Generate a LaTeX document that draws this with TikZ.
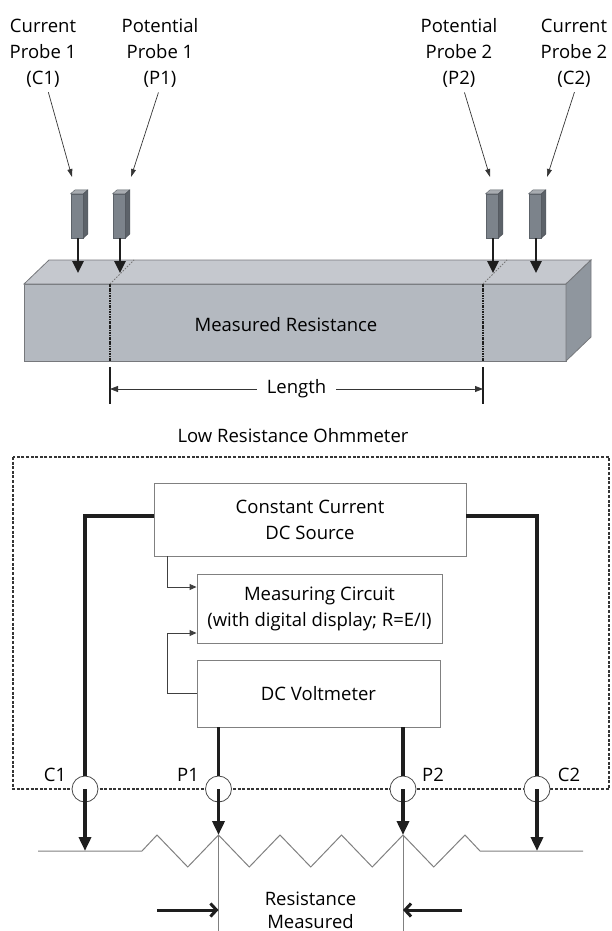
\documentclass[tikz,border=0pt]{standalone}
\usepackage{fontspec}
\setmainfont{Open Sans}
\usetikzlibrary{arrows.meta}

\definecolor{barfront}{RGB}{180,185,192}
\definecolor{bartop}{RGB}{197,200,206}
\definecolor{barside}{RGB}{143,150,158}
\definecolor{baredge}{RGB}{118,120,124}
\definecolor{probefront}{RGB}{124,131,139}
\definecolor{probeside}{RGB}{92,98,105}
\definecolor{probetop}{RGB}{168,172,177}
\definecolor{ink}{RGB}{30,30,30}
\definecolor{rule}{RGB}{128,128,128}

\tikzset{
  txt/.style={font=\fontsize{18.5}{26}\selectfont,align=center,inner sep=0pt,text=black},
  block/.style={txt,draw=rule,line width=0.9pt,fill=white},
  ring/.style={circle,draw=ink!80,line width=0.8pt,fill=white,minimum size=26pt,inner sep=0pt},
  probe/.style={rectangle,fill=probefront,draw=probeside,line width=0.4pt,
    minimum width=12.5pt,minimum height=44pt,inner sep=0pt},
  wire/.style={draw=ink,line width=3.5pt},
  flow/.style={draw=ink!85,line width=0.9pt,-{Triangle[length=7pt,width=6pt]}},
  zig/.style={draw=rule,line width=1pt}
}

\begin{document}
\begin{tikzpicture}[x=1pt,y=-1pt]
\useasboundingbox (0,0) rectangle (612,931);

% probe captions
\begin{scope}[every node/.style={txt}]
    \node (lC1) at (43,53)  {Current\\Probe 1\\(C1)};
    \node (lP1) at (160,53) {Potential\\Probe 1\\(P1)};
    \node (lP2) at (459,53) {Potential\\Probe 2\\(P2)};
    \node (lC2) at (574,53) {Current\\Probe 2\\(C2)};
\end{scope}
\coordinate (aC1) at (72,177);
\coordinate (aP1) at (131,177);
\coordinate (aP2) at (490,177);
\coordinate (aC2) at (547,177);

\begin{scope}[every edge/.style={draw=ink!90,line width=0.7pt,shorten <=5pt}]
    \path [-{Triangle[length=8pt,width=5pt]}] ([xshift=4pt]lC1.south) edge (aC1);
    \path [-{Triangle[length=8pt,width=5pt]}] (lP1.south) edge (aP1);
    \path [-{Triangle[length=8pt,width=5pt]}] ([xshift=4pt]lP2.south) edge (aP2);
    \path [-{Triangle[length=8pt,width=5pt]}] ([xshift=2pt]lC2.south) edge (aC2);
\end{scope}

% the bar under test
\filldraw[fill=barfront,draw=baredge,line width=0.8pt] (24,284) rectangle (566,361);
\filldraw[fill=bartop,draw=baredge,line width=0.8pt] (24,284) -- (49,260) -- (591,260) -- (566,284) -- cycle;
\filldraw[fill=barside,draw=baredge,line width=0.8pt] (566,284) -- (591,260) -- (591,337) -- (566,361) -- cycle;
\foreach \x in {110,483} {
    \draw[ink,line width=1.2pt,dash pattern=on 2.5pt off 1pt on 0.8pt off 1pt] (\x,284) -- (\x,361);
    \draw[ink!60,line width=0.9pt,dash pattern=on 1.5pt off 1.5pt] (\x,284) -- ++(24,-24);
}
\node[txt] (bar) at (286,325) {Measured Resistance};

% probes and their contact arrows
\foreach \n/\x in {C1/78,P1/120,P2/493,C2/536} {
    \node[probe] (p\n) at (\x-1,216) {};
    \filldraw[fill=probetop,draw=probeside,line width=0.4pt]
        (p\n.north west) -- ++(4.5,-4) -- ++(12.5,0) -- (p\n.north east) -- cycle;
    \filldraw[fill=probeside,draw=probeside!80!black,line width=0.4pt]
        (p\n.north east) -- ++(4.5,-4) -- ++(0,44) -- (p\n.south east) -- cycle;
    \coordinate (s\n) at (\x,273);
    \draw[ink,line width=2.6pt,-{Triangle[length=12pt,width=11pt]}] (p\n.south -| s\n) -- (s\n);
}

% length between potential probes
\coordinate (dL) at (110,389);
\coordinate (dR) at (483,389);
\draw[ink,line width=2pt] (dL) ++(0,-22) -- ++(0,37);
\draw[ink,line width=2pt] (dR) ++(0,-22) -- ++(0,37);
\draw[ink!90,line width=0.8pt,{Triangle[length=8pt,width=6pt]}-{Triangle[length=8pt,width=6pt]}]
    (dL) -- node[txt,fill=white,inner xsep=10pt,inner ysep=2pt] {Length} (dR);

% ohmmeter housing
\node[txt] (ohm) at (293,436) {Low Resistance Ohmmeter};
\draw[ink!90,line width=1.1pt,dash pattern=on 3pt off 1.6pt] (13,457) rectangle (609,789);

\begin{scope}[every node/.style={block}]
    \node[minimum width=312pt,minimum height=73pt] (src) at (310,519.5) {Constant Current\\DC Source};
    \node[minimum width=245pt,minimum height=69pt] (meas) at (319.5,608.5) {Measuring Circuit\\(with digital display; R=E/I)};
    \node[minimum width=243pt,minimum height=67pt] (volt) at (318.5,693.5) {DC Voltmeter};
\end{scope}

\coordinate (fb) at (167,0);
\draw[flow] (src.south -| fb) |- ([yshift=21.5pt]meas.west);
\draw[flow] (volt.west) -| ([yshift=-24.5pt]meas.west -| fb) -- ([yshift=-24.5pt]meas.west);

% resistor with its taps
\draw[zig] (38,851) -- (142,851)
    \foreach \k in {0,...,4} { -- ({157+61.5*\k},835) -- ({187.75+61.5*\k},867) }
    -- (465,835) -- (480,851) -- (583,851);

\coordinate (mP1) at (218.5,835);
\coordinate (mP2) at (403,835);
\coordinate (bC1) at (85,851);
\coordinate (bC2) at (537,851);
\draw[zig] (mP1) -- (mP1 |- 0,931);
\draw[zig] (mP2) -- (mP2 |- 0,931);

\begin{scope}[every node/.style={ring}]
    \node (cC1) at (85,789) {};
    \node (cP1) at (218.5,789) {};
    \node (cP2) at (403,789) {};
    \node (cC2) at (537,789) {};
\end{scope}
\begin{scope}[every node/.style={txt}]
    \node (nC1) at (55,775) {C1};
    \node (nP1) at (188,775) {P1};
    \node (nP2) at (433,775) {P2};
    \node (nC2) at (569,775) {C2};
\end{scope}

\draw[wire] ([yshift=3.5pt]src.west) -| (cC1.north);
\draw[wire] ([yshift=3.5pt]src.east) -| (cC2.north);
\draw[wire] (volt.south -| cP1) -- (cP1.north);
\draw[wire] (volt.south -| cP2) -- (cP2.north);

\begin{scope}[every edge/.style={draw=ink,line width=3.5pt}]
    \path [-{Triangle[length=14pt,width=12pt]}] (cC1.center) edge (bC1);
    \path [-{Triangle[length=14pt,width=12pt]}] (cP1.center) edge (mP1);
    \path [-{Triangle[length=14pt,width=12pt]}] (cP2.center) edge (mP2);
    \path [-{Triangle[length=14pt,width=12pt]}] (cC2.center) edge (bC2);
\end{scope}

% span that is measured
\node[txt,font=\fontsize{18.5}{23}\selectfont] (span) at (310.5,910) {Resistance\\Measured};
\coordinate (qL) at (157,910);
\coordinate (qR) at (462,910);
\draw[ink,line width=3pt,-{Straight Barb[length=6pt,width=13pt]}] (qL) -- (mP1 |- qL);
\draw[ink,line width=3pt,-{Straight Barb[length=6pt,width=13pt]}] (qR) -- (mP2 |- qR);
\end{tikzpicture}
\end{document}
